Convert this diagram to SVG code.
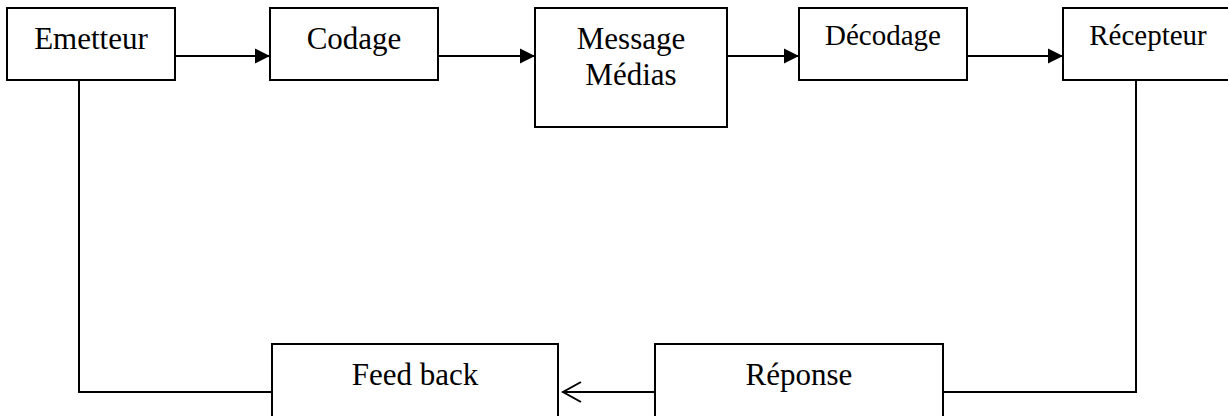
<svg xmlns="http://www.w3.org/2000/svg" width="1228" height="416" viewBox="0 0 1228 416">
<defs>
<style>
.box{fill:#fff;stroke:#000;stroke-width:2}
.t{font-family:"Liberation Serif","Times New Roman",serif;font-size:31px;fill:#000;text-anchor:middle}
.s{font-size:29px}
.ln{fill:none;stroke:#000;stroke-width:2}
</style>
<marker id="fa" markerUnits="userSpaceOnUse" markerWidth="16" markerHeight="16" refX="15" refY="8" orient="auto">
<path d="M0,0.5 L15,8 L0,15.5 Z" fill="#000"/>
</marker>
<marker id="oa" markerUnits="userSpaceOnUse" markerWidth="24" markerHeight="24" refX="20" refY="12" orient="auto">
<path d="M2,2 L20,12 L2,22" fill="none" stroke="#000" stroke-width="2"/>
</marker>
</defs>
<rect width="1228" height="416" fill="#fff"/>
<g id="connectors">
<line class="ln" x1="175" y1="56" x2="270" y2="56" marker-end="url(#fa)"/>
<line class="ln" x1="438" y1="56" x2="535" y2="56" marker-end="url(#fa)"/>
<line class="ln" x1="727" y1="56" x2="799" y2="56" marker-end="url(#fa)"/>
<line class="ln" x1="967" y1="56" x2="1063" y2="56" marker-end="url(#fa)"/>
<polyline class="ln" points="1136,80 1136,392 943,392"/>
<line class="ln" x1="655" y1="392" x2="563" y2="392" marker-end="url(#oa)"/>
<polyline class="ln" points="79,80 79,392 272,392"/>
</g>
<g id="emetteur"><rect class="box" x="7" y="8" width="168" height="72"/><text class="t" x="91" y="49">Emetteur</text></g>
<g id="codage"><rect class="box" x="270" y="8" width="168" height="72"/><text class="t" x="354" y="49">Codage</text></g>
<g id="message"><rect class="box" x="535" y="8" width="192" height="119"/><text class="t" x="631" y="49">Message</text><text class="t" x="631" y="85">Médias</text></g>
<g id="decodage"><rect class="box" x="799" y="8" width="168" height="72"/><text class="t s" x="883" y="45">Décodage</text></g>
<g id="recepteur"><rect class="box" x="1063" y="8" width="172" height="72"/><text class="t s" x="1148" y="45">Récepteur</text></g>
<g id="reponse"><rect class="box" x="655" y="344" width="288" height="82"/><text class="t" x="799" y="385">Réponse</text></g>
<g id="feedback"><rect class="box" x="272" y="344" width="286" height="82"/><text class="t" x="415" y="385">Feed back</text></g>
</svg>
